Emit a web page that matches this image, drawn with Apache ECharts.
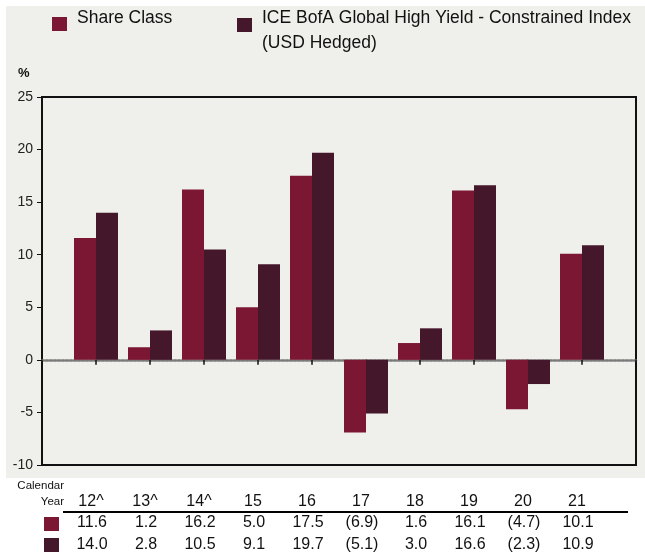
<!DOCTYPE html>
<html>
<head>
<meta charset="utf-8">
<script src="https://cdn.jsdelivr.net/npm/echarts@6/dist/echarts.min.js"></script>
<style>
  html, body { margin: 0; padding: 0; background: #fff; }
  #chart { width: 645px; height: 557px; }
</style>
</head>
<body>
<div id="chart"></div>
<script>
// calendar year returns, %
const years = ['12^', '13^', '14^', '15', '16', '17', '18', '19', '20', '21']
const shareClass = [11.6, 1.2, 16.2, 5.0, 17.5, -6.9, 1.6, 16.1, -4.7, 10.1]
const benchmark = [14.0, 2.8, 10.5, 9.1, 19.7, -5.1, 3.0, 16.6, -2.3, 10.9]
const yMin = -10
const yMax = 25
const yStep = 5

const shareName = 'Share Class'
const benchName = 'ICE BofA Global High Yield - Constrained Index\n(USD Hedged)'
const shareColor = '#7c1733'
const benchColor = '#44172a'
const font = '"Liberation Sans", Arial, sans-serif'

// one empty slot each side so the groups sit where the original puts them
const pad = arr => ['', ...arr, '']
const fmt = v => v < 0 ? '(' + Math.abs(v).toFixed(1) + ')' : v.toFixed(1)

function rowAxis(labels, margin, shift) {
  return {
    type: 'category',
    gridIndex: 0,
    position: 'bottom',
    boundaryGap: false,
    data: pad(labels),
    axisLine: { show: false, onZero: false },
    axisTick: { show: false },
    splitLine: { show: false },
    axisLabel: {
      interval: 0,
      margin: margin,
      verticalAlign: 'middle',
      padding: [0, shift * 2, 0, 0],
      fontFamily: font,
      fontSize: 16,
      color: '#111'
    }
  }
}

// legend text sits a bit above the middle of its square, as in the original
const legendRich = {
  t: { fontFamily: font, fontSize: 17.5, lineHeight: 25, color: '#111' },
  s: { fontSize: 10, lineHeight: 12 }
}

const chart = echarts.init(document.getElementById('chart'), null, { renderer: 'canvas' })

chart.setOption({
  animation: false,
  backgroundColor: '#fff',
  textStyle: { fontFamily: font },
  legend: [
    {
      data: [shareName],
      left: 52,
      top: 9,
      padding: 0,
      icon: 'rect',
      itemWidth: 15,
      itemHeight: 14,
      itemGap: 0,
      selectedMode: false,
      formatter: name => '{t|' + name + '}\n{s| }',
      textStyle: { fontFamily: font, fontSize: 17.5, color: '#111', padding: [0, 0, 0, 5], rich: legendRich }
    },
    {
      data: [benchName],
      left: 237,
      top: -5,
      padding: 0,
      icon: 'rect',
      itemWidth: 15,
      itemHeight: 14,
      selectedMode: false,
      formatter: name => '{s| }\n' + name.split('\n').map(l => '{t|' + l + '}').join('\n'),
      textStyle: { fontFamily: font, fontSize: 17.5, color: '#111', padding: [0, 0, 0, 5], rich: legendRich }
    }
  ],
  grid: {
    left: 42,
    top: 97,
    width: 594,
    height: 368,
    show: true,
    borderColor: '#111',
    borderWidth: 2,
    backgroundColor: 'transparent'
  },
  xAxis: [
    {
      type: 'category',
      position: 'bottom',
      boundaryGap: false,
      data: pad(years),
      axisLine: { onZero: true, lineStyle: { color: '#7a7a7a', width: 2.5, type: [2, 2] } },
      axisTick: { show: true, length: 5, lineStyle: { color: '#111', width: 1.5 } },
      axisLabel: { show: false },
      splitLine: { show: false }
    },
    rowAxis(years, 37, 5),
    rowAxis(shareClass.map(fmt), 58, 4),
    rowAxis(benchmark.map(fmt), 80, 4)
  ],
  yAxis: {
    type: 'value',
    min: yMin,
    max: yMax,
    interval: yStep,
    axisLine: { show: true, lineStyle: { color: '#111', width: 2 } },
    axisTick: { show: true, length: 5, lineStyle: { color: '#111', width: 1 } },
    axisLabel: { fontFamily: font, fontSize: 14, color: '#222', margin: 9 },
    splitLine: { show: false }
  },
  series: [
    {
      name: shareName,
      type: 'bar',
      xAxisIndex: 0,
      barWidth: 22,
      barGap: '0%',
      itemStyle: { color: shareColor },
      data: ['-', ...shareClass, '-']
    },
    {
      name: benchName,
      type: 'bar',
      xAxisIndex: 0,
      barWidth: 22,
      itemStyle: { color: benchColor },
      data: ['-', ...benchmark, '-']
    }
  ],
  graphic: [
    { type: 'rect', z: -100, shape: { x: 6, y: 6, width: 639, height: 472 }, style: { fill: '#efefeb' } },
    { type: 'text', left: 18, top: 67, style: { text: '%', font: 'bold 13px ' + font, fill: '#111' } },
    { type: 'text', x: 64, y: 486, style: { text: 'Calendar', font: '11.5px ' + font, fill: '#111', align: 'right', verticalAlign: 'middle' } },
    { type: 'text', x: 64, y: 502, style: { text: 'Year', font: '11.5px ' + font, fill: '#111', align: 'right', verticalAlign: 'middle' } },
    { type: 'line', shape: { x1: 63, y1: 512, x2: 628, y2: 512 }, style: { stroke: '#000', lineWidth: 2 } },
    { type: 'rect', shape: { x: 44, y: 517, width: 15, height: 14 }, style: { fill: shareColor } },
    { type: 'rect', shape: { x: 44, y: 538, width: 15, height: 14 }, style: { fill: benchColor } }
  ]
})
</script>
</body>
</html>
